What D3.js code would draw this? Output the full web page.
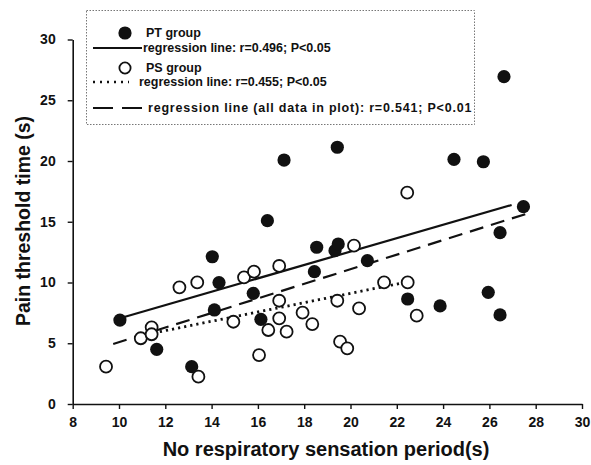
<!DOCTYPE html>
<html>
<head>
<meta charset="utf-8">
<script src="https://cdn.jsdelivr.net/npm/d3@7"></script>
<style>
  body { margin: 0; background: #fff; }
  text { font-family: "Liberation Sans", Arial, sans-serif; font-weight: bold; }
</style>
</head>
<body>
<svg id="chart"></svg>
<script>
// PT group (filled circles)
var ptX = [10.04, 11.63, 13.14, 14.03, 14.12, 14.32, 15.8, 16.13, 16.41, 17.13, 18.44, 18.54, 19.33, 19.47, 19.43, 20.73, 22.47, 23.87, 24.47, 25.74, 25.95, 26.46, 26.46, 26.63, 27.47];
var ptY = [6.91, 4.5, 3.07, 12.12, 7.74, 9.99, 9.11, 6.97, 15.09, 20.08, 10.89, 12.9, 12.62, 13.17, 21.13, 11.8, 8.64, 8.07, 20.14, 19.94, 9.19, 14.1, 7.33, 26.94, 16.24];

// PS group (open circles)
var psX = [9.44, 10.94, 11.41, 11.41, 12.61, 13.38, 13.43, 14.94, 15.4, 15.83, 16.05, 16.45, 16.92, 16.92, 16.92, 17.24, 17.93, 18.35, 19.43, 19.55, 19.86, 20.15, 20.37, 21.45, 22.45, 22.47, 22.86];
var psY = [3.07, 5.41, 6.31, 5.74, 9.6, 10.01, 2.25, 6.77, 10.43, 10.89, 4.03, 6.09, 7.05, 8.5, 11.36, 5.95, 7.52, 6.58, 8.5, 5.13, 4.58, 13.03, 7.87, 10.01, 17.39, 10.01, 7.27];

// regression line end points [x0, y0, x1, y1]
var ptLine = [10.19, 7.14, 26.96, 16.38];
var psLine = [11.5, 5.85, 22.2, 9.95];
var allLine = [9.75, 4.94, 27.58, 15.64];

var xTicks = [8, 10, 12, 14, 16, 18, 20, 22, 24, 26, 28, 30];
var yTicks = [0, 5, 10, 15, 20, 25, 30];

var legendLabels = ["PT group", "regression line: r=0.496; P<0.05", "PS group", "regression line: r=0.455; P<0.05", "regression line (all data in plot): r=0.541; P<0.01"];

var dimensions = { width: 591, height: 465 };

var svg = d3.select("#chart")
    .attr("width", dimensions.width)
    .attr("height", dimensions.height);

var xScale = d3.scaleLinear().domain([8, 30]).range([72.7, 582]);
var yScale = d3.scaleLinear().domain([0, 30]).range([404, 39.5]);

// axes
var xAxis = svg.append("g")
    .attr("transform", "translate(0," + yScale(0) + ")")
    .call(d3.axisBottom(xScale).tickValues(xTicks).tickSize(5).tickPadding(8).tickSizeOuter(0));

var yAxis = svg.append("g")
    .attr("transform", "translate(" + xScale(8) + ",0)")
    .call(d3.axisLeft(yScale).tickValues(yTicks).tickSize(5).tickPadding(12).tickSizeOuter(0));

[xAxis, yAxis].forEach(function(ax) {
    ax.select(".domain").attr("stroke", "#111").attr("stroke-width", 1.6);
    ax.selectAll(".tick line").attr("stroke", "#111").attr("stroke-width", 1.4);
    ax.selectAll(".tick text")
        .attr("fill", "#111")
        .style("font-size", "14px")
        .style("font-family", "'Liberation Sans', Arial, sans-serif")
        .style("font-weight", "bold");
});

svg.append("text")
    .attr("x", 326)
    .attr("y", 456)
    .style("text-anchor", "middle")
    .style("font-size", "20px")
    .attr("fill", "#111")
    .text("No respiratory sensation period(s)");

svg.append("text")
    .attr("transform", "translate(30," + 221 + ")rotate(-90)")
    .style("text-anchor", "middle")
    .style("font-size", "19.5px")
    .attr("fill", "#111")
    .text("Pain threshold time (s)");

// regression lines
function drawLine(p, dash) {
    var l = svg.append("line")
        .attr("x1", xScale(p[0])).attr("y1", yScale(p[1]))
        .attr("x2", xScale(p[2])).attr("y2", yScale(p[3]))
        .attr("stroke", "#111")
        .attr("stroke-width", 2.2);
    if (dash) l.attr("stroke-dasharray", dash);
    return l;
}
drawLine(ptLine, null);
drawLine(psLine, "2.2,4").attr("stroke-width", 2.8);
drawLine(allLine, "14,8");

// points
var ptData = ptX.map((d, i) => ({ x: d, y: ptY[i] }));
var psData = psX.map((d, i) => ({ x: d, y: psY[i] }));

svg.selectAll(".ps")
    .data(psData)
    .enter()
    .append("circle")
    .attr("class", "ps")
    .attr("cx", d => xScale(d.x))
    .attr("cy", d => yScale(d.y))
    .attr("r", 6)
    .attr("fill", "white")
    .attr("stroke", "#111")
    .attr("stroke-width", 1.8);

svg.selectAll(".pt")
    .data(ptData)
    .enter()
    .append("circle")
    .attr("class", "pt")
    .attr("cx", d => xScale(d.x))
    .attr("cy", d => yScale(d.y))
    .attr("r", 6.6)
    .attr("fill", "#111");

// legend
var legend = svg.append("g");
legend.append("rect")
    .attr("x", 86.5).attr("y", 10.5)
    .attr("width", 388).attr("height", 114)
    .attr("fill", "white")
    .attr("stroke", "#777")
    .attr("stroke-width", 1)
    .attr("stroke-dasharray", "1.5,1.5");

legend.append("circle").attr("cx", 125).attr("cy", 33).attr("r", 6.6).attr("fill", "#111");
legend.append("circle").attr("cx", 125).attr("cy", 68).attr("r", 5.6)
    .attr("fill", "white").attr("stroke", "#111").attr("stroke-width", 1.8);

legend.append("line").attr("x1", 93).attr("x2", 142).attr("y1", 48).attr("y2", 48)
    .attr("stroke", "#111").attr("stroke-width", 2);
legend.append("line").attr("x1", 93).attr("x2", 129).attr("y1", 82).attr("y2", 82)
    .attr("stroke", "#111").attr("stroke-width", 2.6).attr("stroke-dasharray", "2,5");
legend.append("line").attr("x1", 93).attr("x2", 142).attr("y1", 108).attr("y2", 108)
    .attr("stroke", "#111").attr("stroke-width", 2).attr("stroke-dasharray", "20,9");

var legendPos = [[146, 37], [143, 51.5], [146, 71.5], [139, 86], [148, 112]];
var legendSpacing = [0, 0, 0, 0, 0.8];
legend.selectAll(".leg")
    .data(legendLabels)
    .enter()
    .append("text")
    .attr("class", "leg")
    .attr("x", (d, i) => legendPos[i][0])
    .attr("y", (d, i) => legendPos[i][1])
    .style("font-size", "12.5px")
    .style("letter-spacing", (d, i) => legendSpacing[i] + "px")
    .attr("fill", "#111")
    .text(d => d);
</script>
</body>
</html>
